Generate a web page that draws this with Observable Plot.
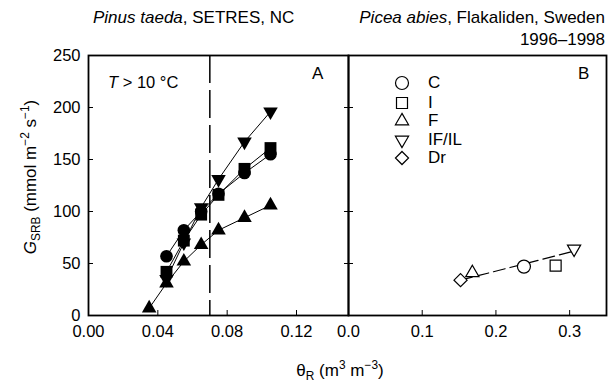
<!DOCTYPE html>
<html><head><meta charset="utf-8">
<script src="https://cdn.jsdelivr.net/npm/d3@7"></script>
<script src="https://cdn.jsdelivr.net/npm/@observablehq/plot@0.6"></script>
<style>
body{margin:0;background:#fff;font-family:"Liberation Sans",Arial,Helvetica,sans-serif;}
#wrap{position:relative;width:608px;height:382px;overflow:hidden;}
#wrap > svg{position:absolute;top:0;}
.t{position:absolute;white-space:nowrap;color:#000;font-size:17px;line-height:1;}
sub,sup{font-size:70%;line-height:0;}
</style></head><body><div id="wrap"></div>
<script>
// ---- Panel A: Pinus taeda, SETRES, NC (filled symbols) ----
const thetaA = [0.045, 0.055, 0.065, 0.075, 0.09, 0.105];
const thetaAF = [0.035, 0.045, 0.055, 0.065, 0.075, 0.09, 0.105];
const gC = [57, 82, 100, 117, 137, 155];
const gI = [42, 72, 97, 116, 141, 161];
const gF = [7, 31, 52, 68, 82, 94, 106];
const gIF = [35, 70, 104, 131, 167, 196];
const thetaThreshold = [0.07];
const xTicksA = [0, 0.04, 0.08, 0.12];
const yTicks = [0, 50, 100, 150, 200, 250];
const yInnerTicks = [50, 100, 150, 200];

// ---- Panel B: Picea abies, Flakaliden (open symbols) ----
const treatmentsB = ["C", "I", "F", "IF/IL", "Dr"];
const thetaB = [0.238, 0.281, 0.168, 0.306, 0.152];
const gB = [47, 48, 41, 64, 34];
const fitBx = [0.152, 0.304];
const fitBy = [34, 61.5];
const xTicksB = [0, 0.1, 0.2, 0.3];

const symbolsB = {"C": "circle", "I": "square", "F": "triangle", "IF/IL": "triangle", "Dr": "diamond2"};
const rotB = {"C": 0, "I": 0, "F": 0, "IF/IL": 180, "Dr": 0};
const rB = {"C": 6.5, "I": 6.2, "F": 4.9, "IF/IL": 4.9, "Dr": 5.9};

const zip = (xs, ys) => xs.map((x, i) => ({x, y: ys[i]}));
const sC = zip(thetaA, gC), sI = zip(thetaA, gI), sF = zip(thetaAF, gF), sIF = zip(thetaA, gIF);
const dataB = treatmentsB.map((t, i) => ({t, x: thetaB[i], y: gB[i]}));
const fitB = zip(fitBx, fitBy);

const style = {fontFamily: "'Liberation Sans', Arial, sans-serif", fontSize: "16.5px", color: "black", background: "transparent", overflow: "visible"};
const H = 382, MT = 55, MB = 67;

const plotA = Plot.plot({
  width: 350, height: H, marginLeft: 88, marginRight: 2, marginTop: MT, marginBottom: MB,
  style,
  x: {domain: [0, 0.15]},
  y: {domain: [0, 250]},
  marks: [
    Plot.axisX({ticks: xTicksA, tickFormat: d => d.toFixed(2), tickSize: -5, tickPadding: 15, label: null}),
    Plot.axisY({ticks: yTicks, tickSize: -5, tickPadding: 13, label: null}),
    Plot.axisY({anchor: "right", ticks: yInnerTicks, tickSize: -5, tickFormat: () => "", label: null}),
    Plot.ruleX(thetaThreshold, {stroke: "black", strokeWidth: 1.5, strokeDasharray: "28,7"}),
    Plot.line(sC, {x: "x", y: "y", stroke: "black", strokeWidth: 1}),
    Plot.line(sI, {x: "x", y: "y", stroke: "black", strokeWidth: 1}),
    Plot.line(sF, {x: "x", y: "y", stroke: "black", strokeWidth: 1}),
    Plot.line(sIF, {x: "x", y: "y", stroke: "black", strokeWidth: 1}),
    Plot.dot(sF, {x: "x", y: "y", symbol: "triangle", r: 5.4, fill: "black"}),
    Plot.dot(sIF, {x: "x", y: "y", symbol: "triangle", rotate: 180, r: 5.4, fill: "black"}),
    Plot.dot(sI, {x: "x", y: "y", symbol: "square", r: 6.7, fill: "black"}),
    Plot.dot(sC, {x: "x", y: "y", symbol: "circle", r: 6.3, fill: "black"}),
    Plot.frame({stroke: "black", strokeWidth: 1.8})
  ]
});

const plotB = Plot.plot({
  width: 262, height: H, marginLeft: 2, marginRight: 2, marginTop: MT, marginBottom: MB,
  style,
  x: {domain: [0, 0.35]},
  y: {domain: [0, 250]},
  marks: [
    Plot.axisX({ticks: xTicksB, tickFormat: d => d.toFixed(1), tickSize: -5, tickPadding: 15, label: null}),
    Plot.axisY({ticks: yInnerTicks, tickSize: -5, tickFormat: () => "", label: null}),
    Plot.line(fitB, {x: "x", y: "y", stroke: "black", strokeWidth: 1.2, strokeDasharray: "12,5"}),
    ...treatmentsB.map(t => Plot.dot(dataB.filter(d => d.t === t), {x: "x", y: "y", symbol: symbolsB[t], rotate: rotB[t], r: rB[t], fill: "white", stroke: "black", strokeWidth: 1.2})),
    Plot.frame({stroke: "black", strokeWidth: 1.8})
  ]
});

const wrap = document.getElementById("wrap");
plotA.style.left = "0px";
plotB.style.left = "346px";
wrap.appendChild(plotA);
wrap.appendChild(plotB);

function addText(html, css) {
  const d = document.createElement("div");
  d.className = "t";
  d.innerHTML = html;
  Object.assign(d.style, css);
  wrap.appendChild(d);
  return d;
}
addText("<i>Pinus taeda</i>, SETRES, NC", {left: "93px", top: "9px"});
addText("<i>Picea abies</i>, Flakaliden, Sweden", {right: "3px", top: "9px"});
addText("1996\u20131998", {right: "3px", top: "31px"});
addText("<i>T</i> &gt; 10 \u00B0C", {left: "108px", top: "74px", fontSize: "16.5px"});
addText("A", {left: "312px", top: "65px"});
addText("B", {left: "578px", top: "65px"});
addText("\u03B8<sub>R</sub> (m<sup>3</sup> m<sup>\u22123</sup>)", {left: "340px", top: "362px", transform: "translateX(-50%)"});
addText("<i>G</i><sub>SRB</sub> (mmol m<sup>\u22122</sup> s<sup>\u22121</sup>)", {left: "30px", top: "177px", transform: "translate(-50%,-50%) rotate(-90deg)"});

// legend for panel B
const legY = [83, 103, 121, 140, 158];
treatmentsB.forEach((t, i) => {
  const r = rB[t];
  const sym = {circle: d3.symbolCircle, square: d3.symbolSquare, triangle: d3.symbolTriangle, diamond2: d3.symbolDiamond2}[symbolsB[t]];
  const path = d3.symbol(sym, Math.PI * r * r)();
  const s = document.createElementNS("http://www.w3.org/2000/svg", "svg");
  s.setAttribute("width", 20); s.setAttribute("height", 20);
  s.style.position = "absolute"; s.style.left = (402 - 10) + "px"; s.style.top = (legY[i] - 10) + "px";
  s.innerHTML = `<path d="${path}" transform="translate(10,10) rotate(${rotB[t]})" fill="white" stroke="black" stroke-width="1.2"/>`;
  wrap.appendChild(s);
  addText(t, {left: "428px", top: (legY[i] - 9) + "px"});
});
</script></body></html>
